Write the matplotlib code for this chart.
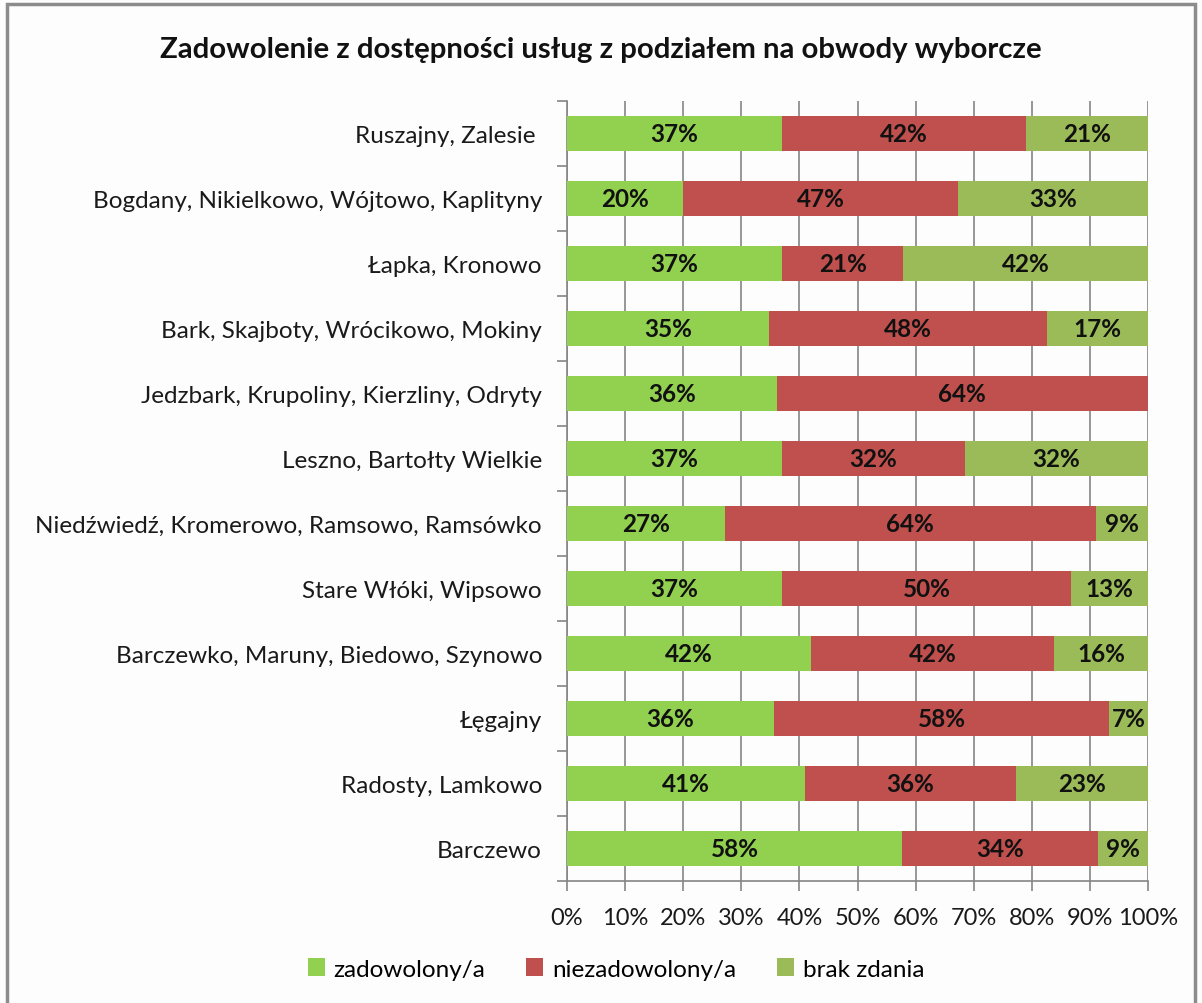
import matplotlib
matplotlib.use('Agg')
import matplotlib.pyplot as plt
from matplotlib.patches import Rectangle
import numpy as np

plt.rcParams['font.family'] = ['Lato', 'DejaVu Sans']

# categories listed top to bottom as in the chart
categories = ['Ruszajny, Zalesie ',
              'Bogdany, Nikielkowo, Wójtowo, Kaplityny',
              'Łapka, Kronowo',
              'Bark, Skajboty, Wrócikowo, Mokiny',
              'Jedzbark, Krupoliny, Kierzliny, Odryty',
              'Leszno, Bartołty Wielkie',
              'Niedźwiedź, Kromerowo, Ramsowo, Ramsówko',
              'Stare Włóki, Wipsowo',
              'Barczewko, Maruny, Biedowo, Szynowo',
              'Łęgajny',
              'Radosty, Lamkowo',
              'Barczewo']

zadowolony = [37.0, 20.0, 37.0, 34.7, 36.1, 37.0, 27.2, 37.0, 42.0, 35.6, 40.9, 57.7]
niezadowolony = [42.0, 47.3, 20.9, 47.9, 63.9, 31.5, 63.8, 49.8, 41.9, 57.7, 36.4, 33.7]
brak_zdania = [21.0, 32.7, 42.1, 17.4, 0.0, 31.5, 9.0, 13.2, 16.1, 6.7, 22.7, 8.6]

series = [('zadowolony/a', zadowolony, '#92D050'),
          ('niezadowolony/a', niezadowolony, '#C0504D'),
          ('brak zdania', brak_zdania, '#9BBB59')]

fig = plt.figure(figsize=(12.02, 10.04), dpi=100)
fig.patch.set_facecolor('#FDFDFD')
ax = fig.add_axes([567 / 1202, 1 - 882 / 1004, 581 / 1202, 780 / 1004])
ax.set_facecolor('#FDFDFD')

# outer frame of the original picture
fig.patches.append(Rectangle((7 / 1202, -0.05), 1188 / 1202, 1.05 - 5 / 1004,
                             transform=fig.transFigure, fill=False,
                             edgecolor='#8C8C8C', linewidth=2.5))

y = np.arange(len(categories))[::-1]
left = np.zeros(len(categories))
for name, vals, color in series:
    vals = np.array(vals)
    ax.barh(y, vals, left=left, height=0.54, color=color, label=name, zorder=3)
    for yi, l, v in zip(y, left, vals):
        if v > 0:
            ax.text(l + v / 2, yi, f"{v:.0f}%", ha='center', va='center',
                    fontsize=17.5, fontweight='bold', color='#111111', zorder=4)
    left += vals

ax.set_xlim(0, 100)
ax.set_ylim(-0.5, len(categories) - 0.5)
ax.set_xticks(np.arange(0, 101, 10))
ax.set_xticklabels([f"{t}%" for t in range(0, 101, 10)])
ax.set_yticks(y)
ax.set_yticklabels(categories)
ax.set_yticks(np.arange(-0.5, len(categories)), minor=True)
ax.tick_params(axis='y', which='major', length=0, pad=18, labelsize=17.5, labelcolor='#1A1A1A')
ax.tick_params(axis='y', which='minor', length=7, color='#868686', width=1.2)
ax.tick_params(axis='x', length=7, color='#868686', width=1.2, pad=12, labelsize=17, labelcolor='#1A1A1A')
ax.grid(axis='x', color='#868686', linewidth=1.2, zorder=0)

for s in ['top', 'right']:
    ax.spines[s].set_visible(False)
for s in ['left', 'bottom']:
    ax.spines[s].set_color('#868686')
    ax.spines[s].set_linewidth(1.2)

fig.text(0.5, 1 - 50 / 1004, 'Zadowolenie z dostępności usług z podziałem na obwody wyborcze',
         ha='center', va='center', fontsize=21.2, fontweight='bold', color='#111111')

handles, labels = ax.get_legend_handles_labels()
fig.legend(handles, labels, loc='center', bbox_to_anchor=(616 / 1202, 1 - 970 / 1004),
           ncol=3, frameon=False, fontsize=17.5, handlelength=0.7, handleheight=0.7,
           handletextpad=0.35, columnspacing=1.7)

fig.savefig('out.png', dpi=100, facecolor=fig.get_facecolor())
